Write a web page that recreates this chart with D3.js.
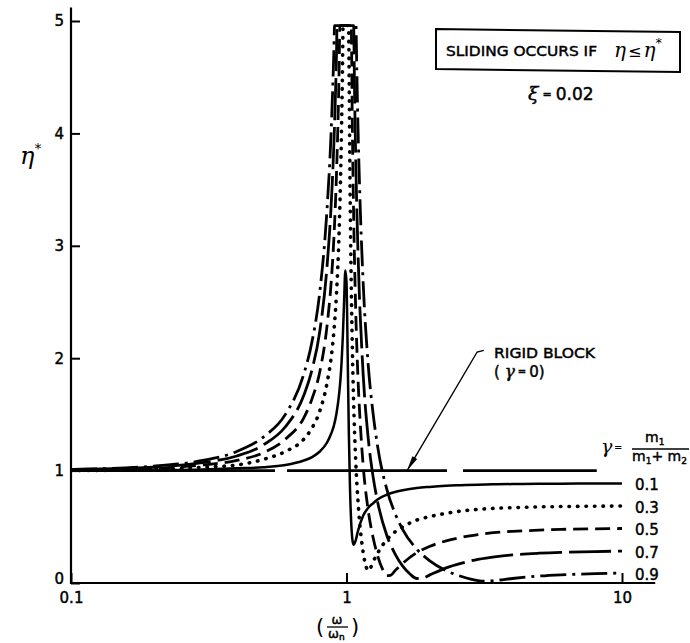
<!DOCTYPE html>
<html><head><meta charset="utf-8">
<script src="https://cdn.jsdelivr.net/npm/d3@7/dist/d3.min.js"></script>
<style>body{margin:0;background:#fff}svg{display:block}</style>
</head><body>
<svg id="chart" width="690" height="643"></svg>
<script>
// ---------------- data ----------------
const xTicks = [0.1, 1, 10];
const xTickLabels = ["0.1", "1", "10"];
const yTicks = [0, 1, 2, 3, 4, 5];
const gammaLabels = ["0.1", "0.3", "0.5", "0.7", "0.9"];

const r01 = [0.1,0.2,0.3,0.4,0.5,0.6,0.7,0.75,0.8,0.85,0.88,0.9,0.92,0.94,0.95,0.96,0.97,0.98,0.99,1.0,1.01,1.02,1.03,1.04,1.05,1.06,1.08,1.1,1.15,1.2,1.25,1.3,1.4,1.5,1.6,1.8,2,2.3,2.6,3,3.5,4,5,6,8,10];
const eta01 = [1.00,1.00,1.01,1.02,1.03,1.05,1.09,1.12,1.17,1.25,1.33,1.40,1.51,1.68,1.80,1.97,2.20,2.50,2.78,2.68,2.02,1.32,0.83,0.54,0.39,0.34,0.38,0.46,0.60,0.67,0.71,0.745,0.785,0.81,0.825,0.845,0.855,0.865,0.87,0.875,0.878,0.88,0.883,0.884,0.885,0.886];

const r03 = [0.1,0.2,0.3,0.4,0.5,0.6,0.7,0.75,0.8,0.85,0.88,0.9,0.92,0.94,0.95,0.96,0.97,0.971,1.018,1.02,1.03,1.04,1.05,1.06,1.08,1.1,1.12,1.15,1.18,1.2,1.22,1.25,1.3,1.4,1.5,1.6,1.8,2,2.3,2.6,3,3.5,4,5,6,8,10];
const eta03 = [1.00,1.01,1.03,1.05,1.10,1.17,1.28,1.38,1.53,1.78,2.01,2.24,2.58,3.12,3.53,4.08,4.85,4.96,4.96,4.78,3.53,2.68,2.09,1.66,1.09,0.74,0.50,0.27,0.14,0.11,0.13,0.19,0.27,0.385,0.455,0.50,0.56,0.59,0.62,0.64,0.655,0.665,0.67,0.677,0.68,0.683,0.685];

const r05 = [0.1,0.2,0.3,0.4,0.5,0.6,0.7,0.75,0.8,0.85,0.88,0.9,0.92,0.94,0.946,1.04,1.05,1.06,1.08,1.1,1.12,1.15,1.2,1.25,1.3,1.35,1.4,1.45,1.5,1.6,1.8,2,2.3,2.6,3,3.5,4,5,6,8,10];
const eta05 = [1.00,1.02,1.05,1.09,1.16,1.28,1.47,1.64,1.88,2.29,2.68,3.07,3.65,4.56,4.96,4.96,4.06,3.36,2.43,1.84,1.45,1.04,0.64,0.40,0.235,0.125,0.065,0.07,0.11,0.175,0.27,0.325,0.375,0.405,0.43,0.45,0.46,0.47,0.477,0.482,0.485];

const r07 = [0.1,0.2,0.3,0.4,0.5,0.6,0.7,0.75,0.8,0.85,0.88,0.9,0.92,0.924,1.061,1.07,1.08,1.1,1.15,1.2,1.25,1.3,1.4,1.5,1.6,1.7,1.8,1.9,2,2.3,2.6,3,3.5,4,5,6,8,10];
const eta07 = [1.01,1.03,1.07,1.13,1.23,1.39,1.67,1.90,2.24,2.82,3.37,3.91,4.72,4.96,4.96,4.34,3.78,2.97,1.85,1.28,0.94,0.71,0.425,0.26,0.15,0.08,0.04,0.045,0.07,0.135,0.175,0.21,0.235,0.25,0.265,0.273,0.28,0.284];

const r09 = [0.1,0.2,0.3,0.4,0.5,0.6,0.7,0.75,0.8,0.85,0.88,0.9,0.905,1.082,1.09,1.1,1.12,1.15,1.2,1.25,1.3,1.4,1.5,1.6,1.8,2,2.3,2.6,2.8,3,3.2,3.5,4,5,6,8,10];
const eta09 = [1.01,1.04,1.09,1.17,1.30,1.50,1.86,2.15,2.59,3.33,4.03,4.74,4.96,4.96,4.56,4.09,3.39,2.66,1.93,1.50,1.20,0.835,0.62,0.475,0.30,0.20,0.11,0.06,0.037,0.022,0.016,0.024,0.04,0.062,0.073,0.083,0.088];

const rigidR = [0.1, 8.1];
const rigidEta = [1, 1];

// annotation anchor points in data space
const arrowTip = [1.66, 1.0];
const arrowTail = [2.98, 2.055];
const arrowHook = [3.15, 2.07];

// ---------------- drawing ----------------
const svg = d3.select("#chart");
const x = d3.scaleLog().domain([0.1, 10]).range([71, 622]);
const y = d3.scaleLinear().domain([0, 5]).range([583, 21]);

const sans = "'DejaVu Sans', 'Liberation Sans', sans-serif";
const serif = "'DejaVu Serif', 'Liberation Serif', serif";
const thick = sel => sel.attr("stroke", "#000").attr("stroke-width", 0.45);

// axes lines
svg.append("line").attr("x1", x(0.1)).attr("x2", x(13.2)).attr("y1", y(0)).attr("y2", y(0))
  .attr("stroke", "#000").attr("stroke-width", 2.2);
svg.append("line").attr("x1", x(0.1)).attr("x2", x(0.1)).attr("y1", y(0) + 1).attr("y2", y(5.12))
  .attr("stroke", "#000").attr("stroke-width", 2.2);

const yAxis = d3.axisLeft(y).tickValues(yTicks).tickFormat(d3.format("d"))
  .tickSizeInner(-9).tickSizeOuter(0).tickPadding(7);
const gy = svg.append("g").attr("transform", `translate(${x(0.1)},0)`).call(yAxis);
gy.select(".domain").remove();
gy.selectAll(".tick line").attr("stroke", "#000").attr("stroke-width", 2);
gy.selectAll("text").attr("font-family", sans).attr("font-size", 15).attr("fill", "#000").call(thick);
gy.selectAll(".tick").filter(d => d === 0).select("text").attr("dy", "0.05em");

const xAxis = d3.axisBottom(x).tickValues(xTicks).tickFormat((d, i) => xTickLabels[i])
  .tickSizeInner(-10).tickSizeOuter(0).tickPadding(9);
const gx = svg.append("g").attr("transform", `translate(0,${y(0)})`).call(xAxis);
gx.select(".domain").remove();
gx.selectAll(".tick line").attr("stroke", "#000").attr("stroke-width", 2);
gx.selectAll("text").attr("font-family", sans).attr("font-size", 15).attr("fill", "#000").call(thick);

// clip
svg.append("clipPath").attr("id", "clip").append("rect")
  .attr("x", x(0.1)).attr("y", y(4.97)).attr("width", x(10.5) - x(0.1)).attr("height", y(0) - y(4.97) + 2);

const line = d3.line().x(d => x(d[0])).y(d => y(d[1])).curve(d3.curveMonotoneX);
const zip = (a, b) => a.map((v, i) => [v, b[i]]);

const series = [
  { r: r09, e: eta09, dash: "26,6,3,6", w: 2.8, cap: "butt" },
  { r: r07, e: eta07, dash: "42,7", w: 2.8, cap: "butt" },
  { r: r05, e: eta05, dash: "15,7", w: 2.8, cap: "butt" },
  { r: r03, e: eta03, dash: "0.5,8", w: 3.6, cap: "round" },
  { r: r01, e: eta01, dash: null, w: 2.5, cap: "butt" }
];

const gc = svg.append("g").attr("clip-path", "url(#clip)");
// rigid block line
gc.append("path").attr("d", line(zip(rigidR, rigidEta)))
  .attr("fill", "none").attr("stroke", "#000").attr("stroke-width", 2.6)
  .attr("stroke-dasharray", "204,12,160,16,140");

series.forEach(s => {
  gc.append("path").attr("d", line(zip(s.r, s.e)))
    .attr("fill", "none").attr("stroke", "#000").attr("stroke-width", s.w)
    .attr("stroke-linecap", s.cap).attr("stroke-linejoin", "round")
    .attr("stroke-dasharray", s.dash);
});

// gamma labels at curve ends
const endVals = [eta01, eta03, eta05, eta07, eta09].map(a => a[a.length - 1]);
gammaLabels.forEach((t, i) => {
  svg.append("text").attr("x", 635).attr("y", y(endVals[i]) + 2.5)
    .attr("dominant-baseline", "middle").attr("font-family", sans).attr("font-size", 15)
    .call(thick).text(t);
});

// gamma definition
const gdef = svg.append("g");
gdef.append("text").attr("x", 601).attr("y", 453).attr("font-family", serif).attr("font-style", "italic")
  .attr("font-size", 19).text("γ");
gdef.append("text").attr("x", 614).attr("y", 451).attr("font-family", sans).attr("font-size", 10).text("=");
gdef.append("text").attr("x", 645).attr("y", 442).attr("font-family", sans).attr("font-size", 14)
  .call(thick).text("m").append("tspan").attr("font-size", 9).attr("dy", 3).text("1");
gdef.append("line").attr("x1", 632).attr("x2", 689).attr("y1", 449).attr("y2", 449)
  .attr("stroke", "#000").attr("stroke-width", 1.5);
const den = gdef.append("text").attr("x", 632).attr("y", 461).attr("font-family", sans).attr("font-size", 14).call(thick);
den.append("tspan").text("m");
den.append("tspan").attr("font-size", 9).attr("dy", 3).text("1");
den.append("tspan").attr("dy", -3).text("+ m");
den.append("tspan").attr("font-size", 9).attr("dy", 3).text("2");

// rigid block annotation
const tip = [x(arrowTip[0]), y(arrowTip[1])];
const tail = [x(arrowTail[0]), y(arrowTail[1])];
const hook = [x(arrowHook[0]), y(arrowHook[1])];
svg.append("path").attr("d", `M${hook[0]},${hook[1]}L${tail[0]},${tail[1]}L${tip[0]},${tip[1]}`)
  .attr("fill", "none").attr("stroke", "#000").attr("stroke-width", 1.4);
{
  const dx = tip[0] - tail[0], dy = tip[1] - tail[1], L = Math.hypot(dx, dy);
  const ux = dx / L, uy = dy / L, px = -uy, py = ux;
  const len = 15, hw = 2.8;
  const bx = tip[0] - ux * len, by = tip[1] - uy * len;
  svg.append("path").attr("d", `M${tip[0]},${tip[1]}L${bx + px * hw},${by + py * hw}L${bx - px * hw},${by - py * hw}Z`)
    .attr("fill", "#000");
}
svg.append("text").attr("x", 494).attr("y", 358).attr("font-family", sans).attr("font-size", 14)
  .attr("textLength", 101).attr("lengthAdjust", "spacingAndGlyphs").call(thick).text("RIGID BLOCK");
const rb = svg.append("text").attr("x", 494).attr("y", 377).attr("font-family", sans).attr("font-size", 15).call(thick);
rb.append("tspan").text("( ");
rb.append("tspan").attr("font-family", serif).attr("font-style", "italic").attr("font-size", 17).text("γ");
rb.append("tspan").attr("font-size", 10).attr("dx", 3).attr("dy", -2).text("=");
rb.append("tspan").attr("dx", 3).attr("dy", 2).text("0)");

// box
svg.append("path").attr("d", "M436,29L680,32L680,72L436,69Z")
  .attr("fill", "none").attr("stroke", "#000").attr("stroke-width", 2);
svg.append("text").attr("x", 446).attr("y", 56).attr("font-family", sans).attr("font-size", 14.5)
  .attr("textLength", 151).attr("lengthAdjust", "spacingAndGlyphs").call(thick).text("SLIDING OCCURS IF");
const cond = svg.append("text").attr("x", 614).attr("y", 57).attr("font-family", serif)
  .attr("font-style", "italic").attr("font-size", 20);
cond.append("tspan").text("η");
cond.append("tspan").attr("font-style", "normal").attr("font-family", sans).attr("font-size", 16).attr("dx", 2).text("≤");
cond.append("tspan").attr("dx", 2).text("η");
cond.append("tspan").attr("font-style", "normal").attr("font-family", sans).attr("font-size", 13).attr("dy", -10).text("*");

const xi = svg.append("text").attr("x", 528).attr("y", 100).attr("font-family", sans).attr("font-size", 17).call(thick);
xi.append("tspan").attr("font-family", serif).attr("font-style", "italic").attr("font-size", 19).text("ξ");
xi.append("tspan").attr("font-size", 11).attr("dx", 4).attr("dy", -2).text("=");
xi.append("tspan").attr("dx", 4).attr("dy", 2).text("0.02");

// y title
const yt = svg.append("text").attr("x", 20).attr("y", 164).attr("font-family", serif)
  .attr("font-style", "italic").attr("font-size", 24);
yt.append("tspan").text("η");
yt.append("tspan").attr("font-style", "normal").attr("font-family", sans).attr("font-size", 14).attr("dy", -11).text("*");

// x title ( ω / ωn )
const xc = 337;
svg.append("text").attr("x", xc - 21).attr("y", 634).attr("font-family", sans).attr("font-size", 21).text("(");
svg.append("text").attr("x", xc + 14).attr("y", 634).attr("font-family", sans).attr("font-size", 21).text(")");
svg.append("text").attr("x", xc).attr("y", 624).attr("text-anchor", "middle").attr("font-family", sans)
  .attr("font-size", 13).call(thick).text("ω");
svg.append("line").attr("x1", xc - 10).attr("x2", xc + 11).attr("y1", 627).attr("y2", 627)
  .attr("stroke", "#000").attr("stroke-width", 1.3);
const wn = svg.append("text").attr("x", xc - 9).attr("y", 638).attr("font-family", sans).attr("font-size", 13).call(thick);
wn.append("tspan").text("ω");
wn.append("tspan").attr("font-size", 9).attr("dy", 2).text("n");
</script>
</body></html>
